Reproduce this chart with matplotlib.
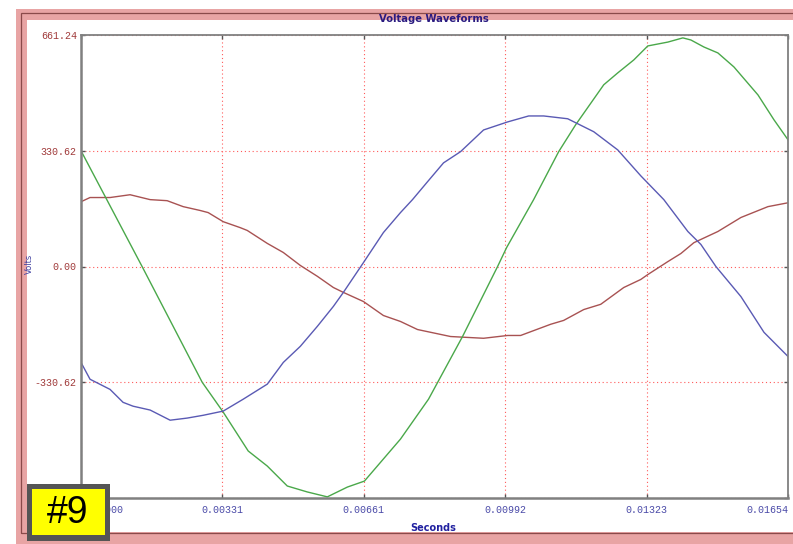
import matplotlib
matplotlib.use("Agg")
import matplotlib.pyplot as plt
from matplotlib.patches import Rectangle

W, H = 793, 544

# waveform samples: time (s) and voltage (V)
t_green = [0.0, 0.001429, 0.002835, 0.003327, 0.003912, 0.004358, 0.004826, 0.005295,
           0.005763, 0.006232, 0.00663, 0.007474, 0.00813, 0.008926, 0.009746, 0.009957,
           0.010589, 0.011175, 0.011573, 0.012229, 0.012557, 0.012932, 0.01326, 0.013729,
           0.01408, 0.014268, 0.014572, 0.0149, 0.015275, 0.015838, 0.016212, 0.01654]
v_green = [330.6, 0, -330.6, -416, -527, -570, -627, -644,
           -658, -630, -613, -493, -379, -200, 0, 54,
           191, 328, 405, 519, 553, 590, 630, 641,
           653, 647, 627, 610, 570, 490, 419, 362]

t_blue = [0.0, 0.000211, 0.000679, 0.000984, 0.001218, 0.001617, 0.002085, 0.002483,
          0.002858, 0.003327, 0.003795, 0.004358, 0.004733, 0.005131, 0.005529, 0.005904,
          0.006138, 0.006607, 0.007075, 0.007474, 0.007755, 0.008106, 0.008481, 0.008879,
          0.009418, 0.009981, 0.010473, 0.010824, 0.011386, 0.011995, 0.012557, 0.013096,
          0.013635, 0.014197, 0.014502, 0.014853, 0.015439, 0.015978, 0.01654]
v_blue = [-274, -322, -351, -388, -399, -410, -439, -433,
          -425, -413, -379, -336, -274, -228, -171, -114,
          -74, 11, 97, 154, 191, 242, 296, 328,
          390, 413, 430, 430, 422, 385, 333, 259,
          191, 100, 63, 0, -86, -188, -257]

t_red = [0.0, 0.000211, 0.000679, 0.001148, 0.001617, 0.002015, 0.00239, 0.002788,
         0.002975, 0.003327, 0.003725, 0.003889, 0.004358, 0.004733, 0.005131, 0.005529,
         0.005904, 0.006138, 0.006607, 0.007075, 0.007474, 0.007872, 0.008645, 0.009418,
         0.009981, 0.010285, 0.010988, 0.011292, 0.011761, 0.012159, 0.012698, 0.013096,
         0.01326, 0.013729, 0.014033, 0.014338, 0.0149, 0.015439, 0.016071, 0.01654]
v_red = [185, 197, 197, 205, 191, 188, 171, 160,
         154, 128, 111, 103, 66, 40, 3, -28,
         -60, -74, -100, -140, -157, -180, -200, -205,
         -197, -197, -165, -154, -123, -108, -60, -37,
         -23, 14, 37, 68, 100, 140, 171, 182]

x_ticks = [0.0, 0.00331, 0.00661, 0.00992, 0.01323, 0.01654]
x_labels = ["0.00000", "0.00331", "0.00661", "0.00992", "0.01323", "0.01654"]
y_ticks = [-661.24, -330.62, 0.0, 330.62, 661.24]
y_labels = ["", "-330.62", "0.00", "330.62", "661.24"]

fig = plt.figure(figsize=(W / 100, H / 100), dpi=100, facecolor="white")


def box(x0, y0, x1, y1, **kw):
    # rectangle given in pixels from the top-left corner
    r = Rectangle((x0 / W, 1 - y1 / H), (x1 - x0) / W, (y1 - y0) / H,
                  transform=fig.transFigure, **kw)
    fig.add_artist(r)


# window frame
box(16, 9, 810, 560, facecolor="#e8a4a4", edgecolor="none", zorder=-3)
box(21, 13, 805, 533, facecolor="none", edgecolor="#8a4a4a", lw=0.9, zorder=-2)
box(27, 20, 800, 532, facecolor="white", edgecolor="none", zorder=-1)

ax = fig.add_axes([81 / W, 1 - 498 / H, 707 / W, 463 / H])
ax.set_facecolor("white")

ax.plot(t_red, v_red, color="#a85252", lw=1.0)
ax.plot(t_green, v_green, color="#4aa84a", lw=1.0)
ax.plot(t_blue, v_blue, color="#5a5ab4", lw=1.0)

ax.set_xlim(0, 0.01654)
ax.set_ylim(-661.24, 661.24)
ax.set_xticks(x_ticks)
ax.set_xticklabels(x_labels, family="Liberation Mono", fontsize=7.2, color="#4a4aa8")
xl = ax.get_xticklabels()
xl[0].set_ha("left")
xl[-1].set_ha("right")
ax.set_yticks(y_ticks)
ax.set_yticklabels(y_labels, family="Liberation Mono", fontsize=7.2, color="#a03a3a")
ax.tick_params(direction="in", length=3, width=1, color="#555555",
               top=True, right=True)
ax.tick_params(axis="y", pad=3)
ax.tick_params(axis="x", pad=5)
ax.grid(True, color="#ff5a5a", linestyle=(0, (1, 2.5)), lw=0.8)
for s in ax.spines.values():
    s.set_color("#808080")
    s.set_linewidth(1.3)
ax.spines["left"].set_linewidth(1.8)
ax.spines["bottom"].set_linewidth(1.8)

fig.text(434 / W, 1 - 19 / H, "Voltage Waveforms", ha="center", va="center",
         fontsize=7.2, fontweight="semibold", color="#2a1a80")
fig.text(29 / W, 1 - 264 / H, "Volts", ha="center", va="center", rotation=90,
         fontsize=6, color="#4040a0")
fig.text(433 / W, 1 - 528 / H, "Seconds", ha="center", va="center",
         fontsize=7, fontweight="semibold", color="#2020a0")

# figure number badge
box(27, 484, 110, 541, facecolor="#555555", edgecolor="none", zorder=5)
box(32, 489, 105, 535, facecolor="#ffff00", edgecolor="none", zorder=6)
fig.text(68 / W, 1 - 513 / H, "#9", ha="center", va="center", fontsize=27,
         family="Liberation Sans", color="black", zorder=7)

fig.savefig("out.png", dpi=100, facecolor="white")
